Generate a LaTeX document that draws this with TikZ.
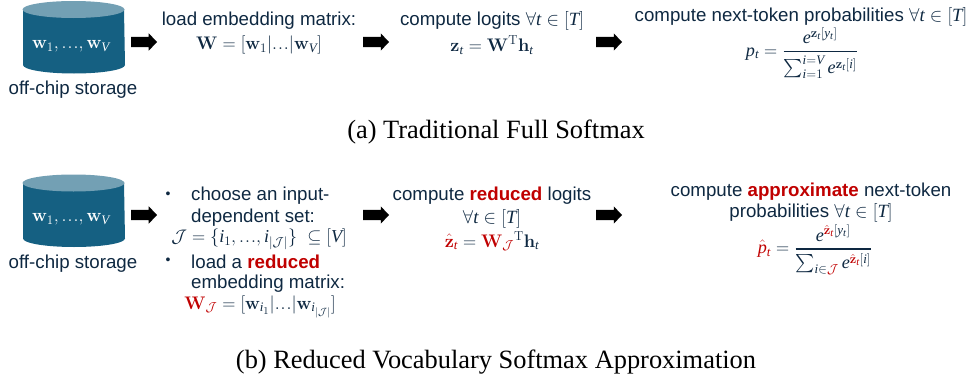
\documentclass[tikz,border=0pt]{standalone}
\usepackage{fix-cm}
\usepackage{amsmath,amssymb}
\usepackage[no-math]{fontspec}
\setmainfont{Liberation Sans}
\newfontfamily\capfont[NFSSFamily=lserif]{Liberation Serif}
\DeclareSymbolFont{lsit}{TU}{lserif}{m}{it}
\DeclareMathSymbol{t}{\mathalpha}{lsit}{`t}
\DeclareMathSymbol{T}{\mathalpha}{lsit}{`T}
\DeclareMathSymbol{V}{\mathalpha}{lsit}{`V}
\DeclareMathSymbol{i}{\mathalpha}{lsit}{`i}
\DeclareMathSymbol{e}{\mathalpha}{lsit}{`e}
\DeclareMathSymbol{p}{\mathalpha}{lsit}{`p}
\DeclareMathSymbol{y}{\mathalpha}{lsit}{`y}
\DeclareMathSizes{18.2}{18.2}{13}{10.5}
\DeclareMathSizes{18.7}{18.7}{13}{10.5}
\usetikzlibrary{shapes.arrows}
\definecolor{navy}{HTML}{0E2841}
\definecolor{cylbody}{HTML}{156082}
\definecolor{cyltop}{HTML}{73A0B4}
\definecolor{hot}{HTML}{C00000}
\newcommand{\hot}[1]{\textcolor{hot}{#1}}
\newcommand{\hotb}[1]{\textcolor{hot}{\bfseries #1}}
\newcommand{\setJ}{\mathcal{J}}
\newcommand{\tdots}{{.}\mkern1mu{.}\mkern1mu{.}}
\newcommand{\fr}[2]{\genfrac{}{}{1.3pt}{0}{#1}{#2}}
\newcommand{\barrowbody}{\rule{0pt}{10pt}}
\tikzset{
  x=1pt,y=1pt,
  txt/.style={text=navy,inner sep=0pt,font=\fontsize{18.7}{22}\selectfont,anchor=center},
  mth/.style={txt,font=\fontsize{18.2}{21}\selectfont},
  dotmark/.style={txt,font=\fontsize{14}{16}\selectfont},
  capt/.style={inner sep=0pt,text=black,font=\capfont\fontsize{26.4}{30}\selectfont},
  bigarrow/.style={single arrow,fill=black,draw=none,inner sep=0pt,outer sep=0pt,minimum width=17pt,anchor=tail,
    single arrow head extend=3.5pt,single arrow tip angle=93,single arrow head indent=0pt,minimum height=26pt},
  pics/storage/.style={code={
    \fill[cylbody] (23,-9.5) -- (23,-65) arc[start angle=180,end angle=360,x radius=51,y radius=8.5] -- (124,-9.5) -- cycle;
    \fill[cyltop] (73.5,-9.5) ellipse[x radius=51,y radius=8.5];
  }}
}
\begin{document}
\begin{tikzpicture}
\useasboundingbox (0,0) rectangle (976,-380);
% row a
\pic at (0,0) {storage};
\node[mth,text=white] (wa) at (71,-46) {$\mathbf{w}_1,\tdots,\mathbf{w}_V$};
\node[txt] (osa) at (73,-89.5) {off-chip storage};
\node[bigarrow] (a1) at (131,-42) {\barrowbody};
\node[txt] (la) at (259,-21) {load embedding matrix:};
\node[mth] (lb) at (259,-45) {$\mathbf{W}=[\mathbf{w}_1|\tdots|\mathbf{w}_V]$};
\node[bigarrow] (a2) at (363,-42) {\barrowbody};
\node[txt] (ca) at (492,-21) {compute logits $\forall t\in[T]$};
\node[mth] (cb) at (492,-45) {$\mathbf{z}_t=\mathbf{W}^{\mathrm{T}}\mathbf{h}_t$};
\node[bigarrow] (a3) at (596,-42) {\barrowbody};
\node[txt] (pa) at (801,-17) {compute next-token probabilities $\forall t\in[T]$};
\node[mth] (pb) at (802,-53) {$p_t=\fr{e^{\mathbf{z}_t[y_t]}}{\sum\nolimits_{i=1}^{i=V}e^{\mathbf{z}_t[i]}}$};
\node[capt] (capa) at (496,-132.5) {(a) Traditional Full Softmax};
% row b
\pic at (0,-173.5) {storage};
\node[mth,text=white] (wb) at (71,-219) {$\mathbf{w}_1,\tdots,\mathbf{w}_V$};
\node[txt] (osb) at (73,-263.5) {off-chip storage};
\node[bigarrow] (b1) at (131,-215) {\barrowbody};
\node[dotmark] (bu1) at (168,-195) {•};
\node[txt,anchor=west] (s1) at (191,-195.5) {choose an input-};
\node[txt,anchor=west] (s2) at (191,-217.5) {dependent set:};
\node[mth] (s3) at (259,-239.5) {$\setJ=\{i_1,\tdots,i_{|\setJ|}\}\ \subseteq[V]$};
\node[dotmark] (bu2) at (168,-261.5) {•};
\node[txt,anchor=west] (s4) at (191,-261.5) {load a \hotb{reduced}};
\node[txt,anchor=west] (s5) at (191,-284) {embedding matrix:};
\node[mth,text height=10pt,text depth=7pt] (s6) at (260,-307.5) {$\hot{\mathbf{W}_{\setJ}}=[\mathbf{w}_{i_1}|\tdots|\mathbf{w}_{i_{|\setJ|}}]$};
\node[bigarrow] (b2) at (363,-215) {\barrowbody};
\node[txt] (ra) at (492,-195.5) {compute \hotb{reduced} logits};
\node[txt] (rb) at (492,-218.5) {$\forall t\in[T]$};
\node[mth] (rc) at (492,-241.5) {$\hot{\hat{\mathbf{z}}_t}=\hot{\mathbf{W}_{\setJ}}{}^{\mathrm{T}}\mathbf{h}_t$};
\node[bigarrow] (b3) at (596,-215) {\barrowbody};
\node[txt] (qa) at (811,-191.5) {compute \hotb{approximate} next-token};
\node[txt] (qb) at (811,-212.5) {probabilities $\forall t\in[T]$};
\node[mth] (qc) at (815,-250) {$\hot{\hat{p}_t}=\fr{e^{\hot{\hat{\mathbf{z}}_t}[y_t]}}{\sum\nolimits_{i\in\hot{\setJ}}e^{\hot{\hat{\mathbf{z}}_t}[i]}}$};
\node[capt] (capb) at (496,-362.5) {(b) Reduced Vocabulary Softmax Approximation};
\end{tikzpicture}
\end{document}
